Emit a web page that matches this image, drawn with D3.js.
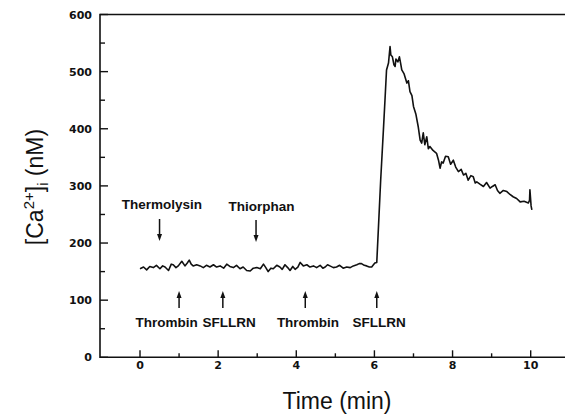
<!doctype html>
<html>
<head>
<meta charset="utf-8">
<title>Ca trace</title>
<script src="https://cdnjs.cloudflare.com/ajax/libs/d3/7.8.5/d3.min.js"></script>
<style>
  body { margin: 0; background: #fff; }
  svg text { fill: #111; }
</style>
</head>
<body>
<div id="chart"></div>
<script>
// trace: time (min) and [Ca2+]i (nM)
const times = [0.00, 0.09, 0.17, 0.25, 0.34, 0.42, 0.51, 0.58, 0.64, 0.73, 0.80, 0.85, 0.92, 0.98, 1.07, 1.15, 1.21, 1.26, 1.31, 1.36,
  1.45, 1.54, 1.62, 1.70, 1.79, 1.88, 1.96, 2.05, 2.14, 2.22, 2.30, 2.39, 2.47, 2.56, 2.64, 2.73, 2.82, 2.90, 2.99, 3.08,
  3.16, 3.22, 3.28, 3.35, 3.41, 3.50, 3.58, 3.64, 3.71, 3.78, 3.84, 3.91, 3.97, 4.04, 4.10, 4.18, 4.27, 4.35, 4.44, 4.52,
  4.61, 4.68, 4.74, 4.80, 4.86, 4.95, 5.03, 5.11, 5.20, 5.29, 5.38, 5.46, 5.55, 5.61, 5.67, 5.74, 5.80, 5.87, 5.93, 6.01,
  6.06, 6.10, 6.16, 6.23, 6.27, 6.31, 6.36, 6.40, 6.42, 6.46, 6.50, 6.53, 6.55, 6.60, 6.64, 6.67, 6.70, 6.76, 6.83, 6.87,
  6.91, 6.96, 7.00, 7.06, 7.12, 7.17, 7.21, 7.25, 7.29, 7.34, 7.38, 7.42, 7.50, 7.59, 7.64, 7.68, 7.72, 7.76, 7.82, 7.89,
  7.95, 8.02, 8.08, 8.15, 8.22, 8.28, 8.34, 8.40, 8.47, 8.53, 8.58, 8.62, 8.70, 8.79, 8.87, 8.96, 9.02, 9.09, 9.15, 9.21,
  9.30, 9.39, 9.47, 9.55, 9.64, 9.73, 9.83, 9.94, 9.97, 9.98, 10.01, 10.03];
const calcium = [155, 158, 153, 159, 157, 161, 155, 160, 158, 152, 163, 162, 157, 160, 168, 160, 165, 170, 163, 160,
  162, 160, 157, 161, 158, 162, 158, 160, 156, 163, 159, 157, 161, 155, 158, 152, 151, 156, 157, 155,
  163, 157, 150, 156, 155, 161, 158, 154, 162, 157, 152, 159, 154, 158, 166, 160, 162, 158, 160, 157,
  161, 156, 158, 162, 160, 157, 158, 161, 156, 158, 157, 160, 162, 164, 164, 161, 160, 158, 158, 165,
  166, 223, 310, 398, 450, 503, 515, 544, 529, 526, 512, 509, 522, 517, 526, 515, 503, 496, 480, 484,
  465, 458, 439, 426, 404, 380, 375, 393, 372, 386, 365, 369, 362, 357, 345, 331, 342, 340, 352, 351,
  338, 345, 333, 325, 329, 319, 322, 310, 318, 316, 305, 307, 303, 299, 306, 296, 299, 302, 292, 287,
  292, 290, 285, 281, 278, 272, 273, 270, 275, 293, 265, 258];

const yTicks = [0, 100, 200, 300, 400, 500, 600];
const xTicks = [0, 2, 4, 6, 8, 10];

// drug additions: name, time (min), side of the trace
const addedAbove = [
  { name: "Thermolysin", t: 0.50, lx: 0.56 },
  { name: "Thiorphan", t: 2.97, lx: 3.11 }
];
const addedBelow = [
  { name: "Thrombin", t: 1.00, lx: 0.68 },
  { name: "SFLLRN", t: 2.12, lx: 2.28 },
  { name: "Thrombin", t: 4.23, lx: 4.30 },
  { name: "SFLLRN", t: 6.06, lx: 6.12 }
];

const W = 567, H = 420;
const svg = d3.select('#chart').append('svg')
  .attr('width', W).attr('height', H)
  .style('font-family', 'Liberation Sans, Arial, sans-serif');

const x = d3.scaleLinear().domain([-1.024, 10.878]).range([100, 565]);
const y = d3.scaleLinear().domain([0, 600]).range([357.3, 14.5]);

// frame: left, bottom and top lines
svg.append('path')
  .attr('d', `M565,${y(600)}H${x.range()[0]}V${y(0)}H565`)
  .attr('fill', 'none').attr('stroke', '#111').attr('stroke-width', 1.6);

// y ticks (inside)
const yMinor = d3.range(50, 600, 100);
svg.selectAll('.ymaj').data(yTicks).join('line')
  .attr('x1', 100).attr('x2', 108).attr('y1', d => y(d)).attr('y2', d => y(d))
  .attr('stroke', '#111').attr('stroke-width', 1.4);
svg.selectAll('.ymin').data(yMinor).join('line')
  .attr('x1', 100).attr('x2', 105).attr('y1', d => y(d)).attr('y2', d => y(d))
  .attr('stroke', '#111').attr('stroke-width', 1.4);
svg.selectAll('.ylab').data(yTicks).join('text')
  .attr('x', 92).attr('y', d => y(d) + 4)
  .attr('text-anchor', 'end')
  .style('font-family', 'DejaVu Sans')
  .style('font-weight', 'bold').style('font-size', '11px')
  .text(d => d);

// x ticks (inside)
const xMinor = d3.range(1, 11, 2);
svg.selectAll('.xmaj').data(xTicks).join('line')
  .attr('x1', d => x(d)).attr('x2', d => x(d)).attr('y1', y(0)).attr('y2', y(0) - 7)
  .attr('stroke', '#111').attr('stroke-width', 1.4);
svg.selectAll('.xmin').data(xMinor).join('line')
  .attr('x1', d => x(d)).attr('x2', d => x(d)).attr('y1', y(0)).attr('y2', y(0) - 4)
  .attr('stroke', '#111').attr('stroke-width', 1.4);
svg.selectAll('.xlab').data(xTicks).join('text')
  .attr('x', d => x(d)).attr('y', 369)
  .attr('text-anchor', 'middle')
  .style('font-family', 'DejaVu Sans')
  .style('font-weight', 'bold').style('font-size', '11px')
  .text(d => d);

// axis titles
svg.append('text')
  .attr('x', 337).attr('y', 409)
  .attr('text-anchor', 'middle')
  .style('font-size', '23px')
  .text('Time (min)');

const yt = svg.append('text')
  .attr('transform', 'translate(43,187) rotate(-90)')
  .attr('text-anchor', 'middle')
  .style('font-size', '23px');
yt.append('tspan').text('[Ca');
yt.append('tspan').attr('dy', -9).style('font-size', '15px').text('2+');
yt.append('tspan').attr('dy', 9).text(']');
yt.append('tspan').attr('dy', 5).style('font-size', '15px').text('i');
yt.append('tspan').attr('dy', -5).text(' (nM)');

// the trace
const pts = times.map((t, i) => [t, calcium[i]]);
svg.append('path')
  .datum(pts)
  .attr('d', d3.line().x(d => x(d[0])).y(d => y(d[1])))
  .attr('fill', 'none').attr('stroke', '#111')
  .attr('stroke-width', 1.6).attr('stroke-linejoin', 'round');

// arrow helper
function arrow(px, y1, y2) {
  const dir = y2 > y1 ? 1 : -1;
  svg.append('line').attr('x1', px).attr('x2', px).attr('y1', y1).attr('y2', y2 - dir * 5)
    .attr('stroke', '#111').attr('stroke-width', 1.5);
  svg.append('path')
    .attr('d', `M${px - 2.5},${y2 - dir * 7}L${px},${y2}L${px + 2.5},${y2 - dir * 7}Z`)
    .attr('fill', '#111');
}

addedAbove.forEach((d, i) => {
  arrow(x(d.t), 219 + i, 241 + i);
  svg.append('text').attr('x', x(d.lx)).attr('y', 209 + i * 2)
    .attr('text-anchor', 'middle')
    .style('font-weight', 'bold').style('font-size', '13.5px')
    .text(d.name);
});
addedBelow.forEach(d => {
  arrow(x(d.t), 308, 291);
  svg.append('text').attr('x', x(d.lx)).attr('y', 327)
    .attr('text-anchor', 'middle')
    .style('font-weight', 'bold').style('font-size', '13.5px')
    .text(d.name);
});
</script>
</body>
</html>
